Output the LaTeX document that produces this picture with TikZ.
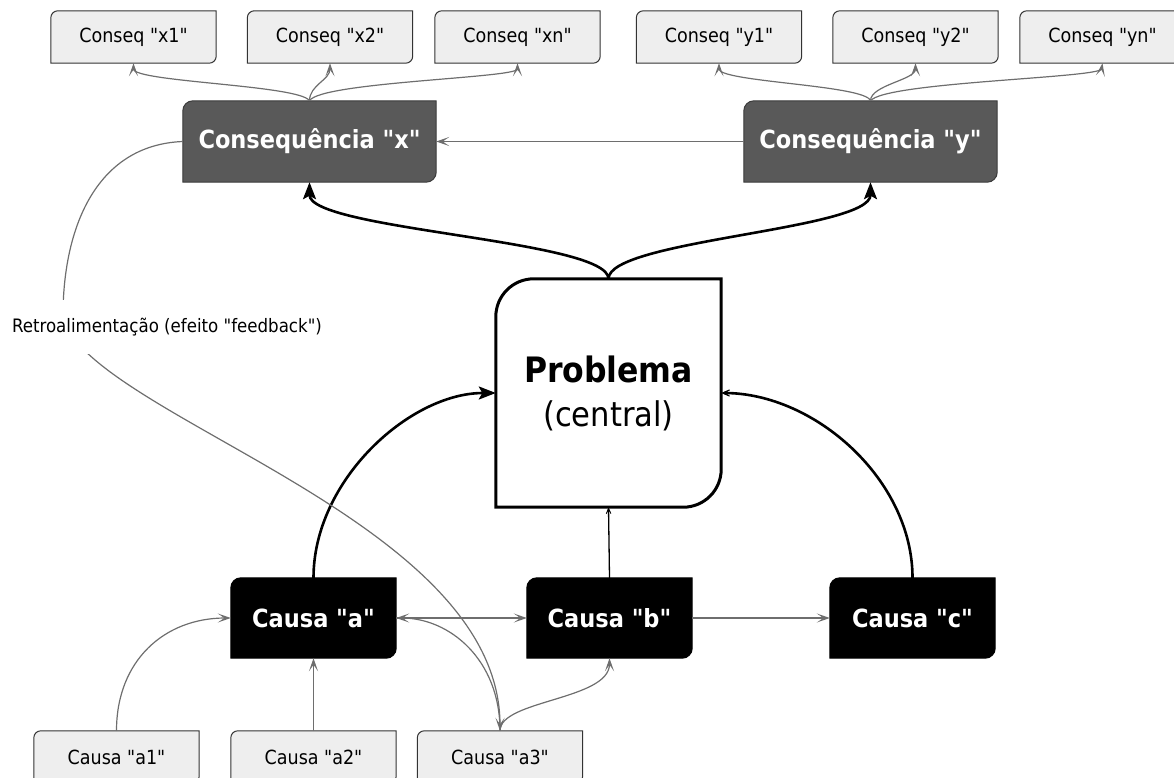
\documentclass[tikz,border=0pt]{standalone}
\usepackage{fontspec}
\setmainfont{DejaVu Sans Condensed}[Ligatures=TeXOff]
\usetikzlibrary{arrows.meta,calc}
\pgfdeclarelayer{bg}
\pgfsetlayers{bg,main}

\definecolor{leaffill}{HTML}{EEEEEE}
\definecolor{leafline}{HTML}{333333}
\definecolor{midfill}{HTML}{595959}
\definecolor{midline}{HTML}{3A3A3A}
\definecolor{linkgray}{HTML}{6E6E6E}

% box outline: rounded top-left and bottom-right corners only
\newcommand\lobox[3]{%
  \path[#3] ($(#1.north west)+(#2,0)$) -- (#1.north east)
    -- ($(#1.south east)+(0,#2)$) arc[start angle=0,end angle=-90,radius=#2]
    -- (#1.south west)
    -- ($(#1.north west)+(0,-#2)$) arc[start angle=180,end angle=90,radius=#2]
    -- cycle;}

\tikzset{
  leaf/.style={minimum width=165pt, minimum height=52pt, inner sep=0pt,
    font=\fontsize{19.5}{22}\selectfont, text=black},
  conseq/.style={minimum width=253pt, minimum height=81pt, inner sep=0pt,
    font=\bfseries\fontsize{25}{30}\selectfont, text=white},
  cause/.style={minimum width=165pt, minimum height=80pt, inner sep=0pt,
    font=\bfseries\fontsize{25}{30}\selectfont, text=white},
  problem/.style={minimum width=225pt, minimum height=228pt, inner sep=0pt,
    align=center, font=\fontsize{34}{44}\selectfont, text=black},
  fblabel/.style={fill=white, inner xsep=2pt, inner ysep=18pt,
    font=\fontsize{18.5}{22}\selectfont, text=black},
  leafshape/.style={fill=leaffill, draw=leafline, line width=1pt},
  midshape/.style={fill=midfill, draw=midline, line width=1pt},
  causeshape/.style={fill=black, draw=black, line width=1pt},
  probshape/.style={fill=white, draw=black, line width=3pt},
  thinlink/.style={draw=linkgray, line width=1.2pt,
    -{Stealth[length=13pt,width=9pt,inset=6.5pt]}},
  boldlink/.style={draw=black, line width=2.6pt,
    -{Stealth[length=17pt,width=13pt,inset=3.5pt]}},
  boldopen/.style={draw=black, line width=2.6pt,
    -{Stealth[length=16pt,width=14pt,inset=12pt]}},
  thinopen/.style={draw=black, line width=1.3pt,
    -{Stealth[length=13pt,width=11pt,inset=10pt]}},
}

\begin{document}
\begin{tikzpicture}[x=1pt,y=1pt]
\useasboundingbox (0,0) rectangle (1174,-778);

% consequences, first level
\node[leaf] (x1) at (133.5,-37) {Conseq "x1"};
\node[leaf] (x2) at (330,-37) {Conseq "x2"};
\node[leaf] (xn) at (517.5,-37) {Conseq "xn"};
\node[leaf] (y1) at (719,-37) {Conseq "y1"};
\node[leaf] (y2) at (915.5,-37) {Conseq "y2"};
\node[leaf] (yn) at (1102.5,-37) {Conseq "yn"};

\node[conseq] (cx) at (309.5,-141.5) {Consequência "x"};
\node[conseq] (cy) at (870.5,-141.5) {Consequência "y"};

\node[problem] (prob) at (608.5,-393) {{\bfseries\fontsize{35}{44}\selectfont Problema}\\(central)};

\node[cause] (ca) at (313.5,-618) {Causa "a"};
\node[cause] (cb) at (609.5,-618) {Causa "b"};
\node[cause] (cc) at (912.5,-618) {Causa "c"};

\node[leaf] (a1) at (116.5,-757) {Causa "a1"};
\node[leaf] (a2) at (313.5,-757) {Causa "a2"};
\node[leaf] (a3) at (500,-757) {Causa "a3"};

\begin{pgfonlayer}{bg}
  \foreach \n in {x1,x2,xn,y1,y2,yn,a1,a2,a3} {\lobox{\n}{7}{leafshape}}
  \foreach \n in {cx,cy} {\lobox{\n}{10}{midshape}}
  \foreach \n in {ca,cb,cc} {\lobox{\n}{10}{causeshape}}
  \lobox{prob}{38}{probshape}
\end{pgfonlayer}

% problem to its consequences
\draw[boldlink] (prob.north) .. controls (608.5,-240) and (309.5,-230) .. (cx.south);
\draw[boldlink] (prob.north) .. controls (608.5,-240) and (870.5,-230) .. (cy.south);

% causes to problem
\draw[boldlink] (ca.north) .. controls (313.5,-480) and (410,-393) .. (prob.west);
\draw[boldopen] (cc.north) .. controls (912.5,-480) and (815,-393) .. (prob.east);
\draw[thinopen] (cb.north) -- (prob.south);

% links between consequences
\draw[thinlink] (cy.west) -- (cx.east);
\draw[thinlink] (cx.north) .. controls (300,-85) and (133.5,-82) .. (x1.south);
\draw[thinlink] (cx.north) .. controls (309.5,-85) and (330,-80) .. (x2.south);
\draw[thinlink] (cx.north) .. controls (320,-82) and (517.5,-78) .. (xn.south);
\draw[thinlink] (cy.north) .. controls (866,-85) and (719,-82) .. (y1.south);
\draw[thinlink] (cy.north) .. controls (870.5,-85) and (915.5,-80) .. (y2.south);
\draw[thinlink] (cy.north) .. controls (885,-82) and (1100,-78) .. (yn.south);

% links between causes
\draw[thinlink] (ca.east) -- (cb.west);
\draw[thinlink] (cb.east) -- (cc.west);
\draw[thinlink] (a1.north) .. controls (116.5,-660) and (165,-618) .. (ca.west);
\draw[thinlink] (a2.north) -- (ca.south);
\draw[thinlink] (a3.north) .. controls (500,-660) and (450,-618) .. (ca.east);
\draw[thinlink] (a3.north) .. controls (500,-700) and (609.5,-700) .. (cb.south);

% feedback loop
\draw[thinlink] (cx.west) .. controls (95,-145) and (62,-230) .. (63,-320)
  .. controls (100,-420) and (500,-520) .. (a3.north);
\node[fblabel] (fb) at (167,-327) {Retroalimentação (efeito "feedback")};
\end{tikzpicture}
\end{document}
